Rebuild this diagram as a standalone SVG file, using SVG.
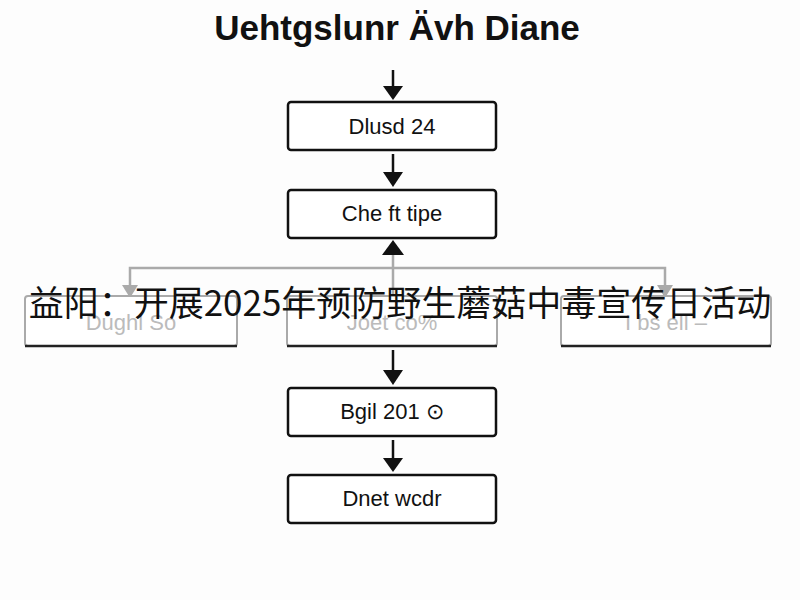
<svg xmlns="http://www.w3.org/2000/svg" width="800" height="600" viewBox="0 0 800 600">
<style>
.box{fill:#fff;stroke:#111;stroke-width:2.5}
.gbox{fill:#fff;stroke:#aaa;stroke-width:2}
.t{font-family:"Liberation Sans",Arial,sans-serif;font-size:22px;fill:#111;text-anchor:middle}
.gt{font-family:"Liberation Sans",Arial,sans-serif;font-size:22px;fill:#bbb;text-anchor:middle}
.c{stroke:#111;stroke-width:2.5;fill:none}
.g{stroke:#aaa;stroke-width:2.5;fill:none}
</style>
<rect width="800" height="600" fill="#fdfdfd"/>
<text x="397" y="40" font-family="Liberation Sans,Arial,sans-serif" font-size="35" font-weight="bold" fill="#111" text-anchor="middle">Uehtgslunr Ävh Diane</text>
<g id="connectors">
<line class="c" x1="393" y1="70" x2="393" y2="88"/><path d="M383,86 L403,86 L393,100 Z" fill="#111"/>
<line class="c" x1="393" y1="154" x2="393" y2="174"/><path d="M383,172 L403,172 L393,187 Z" fill="#111"/>
<line class="g" x1="393" y1="252" x2="393" y2="300"/><path d="M382,255 L404,255 L393,240 Z" fill="#111"/>
<path class="g" d="M130,290 V268 H665 V290"/>
<path d="M122,285 L138,285 L130,298 Z" fill="#aaa"/><path d="M657,285 L673,285 L665,298 Z" fill="#aaa"/>
<line class="c" x1="393" y1="350" x2="393" y2="372"/><path d="M383,370 L403,370 L393,385 Z" fill="#111"/>
<line class="c" x1="393" y1="440" x2="393" y2="460"/><path d="M383,458 L403,458 L393,472 Z" fill="#111"/>
</g>
<g id="n1"><rect class="box" x="288" y="102" width="208" height="48" rx="3"/><text class="t" x="392" y="134">Dlusd 24</text></g>
<g id="n2"><rect class="box" x="288" y="190" width="208" height="48" rx="3"/><text class="t" x="392" y="221">Che ft tipe</text></g>
<g id="n3"><rect class="gbox" x="25" y="296" width="212" height="50" rx="3"/><line x1="25" y1="346" x2="237" y2="346" stroke="#222" stroke-width="2.5"/><text class="gt" x="131" y="330">Dughl So</text></g>
<g id="n4"><rect class="gbox" x="287" y="296" width="210" height="50" rx="3"/><line x1="287" y1="346" x2="497" y2="346" stroke="#222" stroke-width="2.5"/><text class="gt" x="392" y="330">Joet co%</text></g>
<g id="n5"><rect class="gbox" x="561" y="296" width="210" height="50" rx="3"/><line x1="561" y1="346" x2="771" y2="346" stroke="#222" stroke-width="2.5"/><text class="gt" x="666" y="330">I bs ell –</text></g>
<g id="n6"><rect class="box" x="288" y="388" width="208" height="48" rx="3"/><text class="t" x="392" y="419">Bgil 201 ⊙</text></g>
<g id="n7"><rect class="box" x="288" y="475" width="208" height="48" rx="3"/><text class="t" x="392" y="506">Dnet wcdr</text></g>
<text x="400" y="316" font-family="Noto Sans CJK SC,sans-serif" font-size="35" fill="#111" text-anchor="middle">益阳：开展2025年预防野生蘑菇中毒宣传日活动</text>
</svg>
